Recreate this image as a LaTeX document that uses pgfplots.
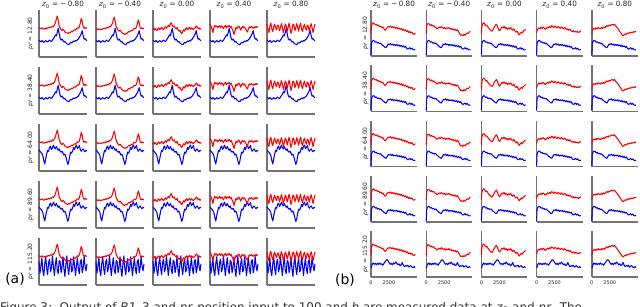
\documentclass[border=0pt]{standalone}
\usepackage{fontspec}
\setmainfont{DejaVu Sans}
\usepackage{pgfplots}
\pgfplotsset{compat=1.18}
\usepackage{pgfplotstable}
\definecolor{spine}{rgb}{0.45,0.45,0.45}
\newcommand\ttl{\fontsize{7.3}{8}\selectfont}
\newcommand\rl{\fontsize{6}{7}\selectfont}

% left grid: x, red per column (r1..r5), blue per row group (b1: rows 1-2, b2: rows 3-4, b3: row 5)
\pgfplotstableread{
x r1 r2 r3 r4 r5 b1 b2 b3
0 .63 .61 .60 .70 .70 .36 .45 .50
2 .61 .60 .57 .66 .58 .34 .42 .25
4 .60 .58 .61 .60 .52 .32 .40 .40
6 .62 .60 .58 .52 .66 .35 .37 .58
8 .60 .59 .56 .62 .72 .33 .33 .30
10 .59 .58 .60 .67 .60 .31 .22 .20
12 .61 .60 .62 .64 .54 .33 .15 .45
14 .60 .59 .58 .66 .64 .35 .26 .60
16 .62 .61 .60 .62 .70 .33 .36 .35
18 .61 .60 .63 .65 .62 .32 .44 .22
20 .63 .62 .60 .67 .58 .34 .42 .48
22 .62 .61 .58 .63 .68 .36 .50 .55
24 .64 .63 .62 .66 .66 .34 .53 .28
26 .63 .62 .64 .64 .56 .33 .46 .36
28 .66 .65 .61 .60 .62 .36 .49 .62
30 .65 .64 .65 .65 .71 .39 .55 .40
32 .68 .67 .67 .67 .64 .42 .50 .20
34 .72 .71 .64 .62 .52 .47 .47 .42
36 .80 .79 .70 .66 .60 .45 .52 .58
38 .87 .85 .73 .64 .70 .52 .48 .32
40 .78 .76 .68 .67 .66 .61 .44 .24
42 .66 .65 .64 .63 .55 .50 .47 .52
44 .62 .61 .66 .65 .63 .40 .42 .50
46 .58 .57 .62 .60 .72 .36 .40 .26
48 .56 .55 .60 .55 .62 .38 .42 .38
50 .59 .57 .63 .48 .50 .35 .38 .60
52 .57 .55 .58 .56 .58 .32 .34 .34
54 .53 .52 .55 .63 .70 .33 .36 .18
56 .52 .50 .57 .60 .68 .30 .30 .44
58 .51 .49 .52 .64 .56 .28 .22 .62
60 .50 .48 .50 .66 .62 .27 .14 .36
62 .52 .50 .54 .62 .71 .26 .20 .22
64 .51 .49 .58 .57 .63 .29 .32 .46
66 .53 .52 .55 .63 .55 .31 .40 .56
68 .55 .54 .60 .65 .66 .30 .38 .28
70 .54 .53 .62 .62 .72 .32 .43 .32
72 .56 .55 .58 .64 .60 .34 .50 .60
74 .58 .57 .61 .60 .54 .33 .46 .42
76 .57 .56 .63 .56 .64 .35 .52 .20
78 .60 .59 .59 .53 .70 .34 .55 .40
80 .62 .61 .62 .60 .61 .37 .48 .58
82 .61 .60 .60 .64 .57 .38 .50 .34
84 .64 .63 .58 .62 .68 .42 .54 .24
86 .72 .70 .61 .65 .65 .45 .46 .50
88 .82 .79 .62 .63 .55 .50 .42 .54
90 .76 .73 .66 .61 .63 .56 .45 .26
92 .64 .62 .64 .64 .71 .45 .47 .36
94 .61 .60 .60 .62 .62 .38 .43 .61
96 .63 .62 .62 .65 .52 .39 .41 .40
98 .61 .60 .59 .63 .62 .36 .44 .30
100 .62 .61 .61 .64 .70 .35 .43 .45
}\LeftData

% right grid: x, red per column, blue (b1: rows 1-4, b2: row 5)
\pgfplotstableread{
x r1 r2 r3 r4 r5 b1 b2
0 .48 .48 .48 .50 .48 .02 .20
60 .64 .65 .64 .55 .55 .26 .22
150 .69 .69 .69 .58 .58 .31 .27
300 .72 .71 .72 .61 .60 .34 .31
450 .70 .69 .70 .59 .58 .33 .28
600 .68 .66 .66 .62 .61 .30 .30
750 .69 .68 .67 .60 .59 .31 .27
900 .66 .65 .63 .63 .62 .28 .30
1050 .67 .66 .60 .61 .60 .29 .28
1200 .64 .63 .57 .58 .59 .27 .31
1350 .65 .62 .55 .60 .62 .28 .28
1500 .62 .59 .54 .63 .60 .25 .29
1650 .63 .61 .58 .61 .63 .23 .26
1800 .59 .63 .63 .64 .61 .21 .30
1950 .56 .61 .67 .62 .64 .19 .33
2100 .58 .64 .69 .66 .66 .18 .37
2250 .62 .62 .64 .64 .64 .22 .38
2400 .64 .60 .57 .62 .67 .26 .35
2550 .63 .62 .55 .65 .66 .25 .31
2700 .65 .59 .59 .63 .68 .27 .28
2850 .62 .61 .63 .61 .69 .24 .30
3000 .64 .60 .61 .64 .67 .26 .27
3150 .61 .62 .64 .62 .69 .23 .31
3300 .63 .59 .60 .60 .66 .25 .29
3450 .60 .60 .62 .63 .63 .23 .33
3600 .62 .57 .58 .61 .60 .25 .30
3750 .59 .59 .61 .59 .57 .22 .27
3900 .61 .56 .59 .62 .53 .24 .29
4050 .58 .58 .62 .60 .50 .21 .25
4200 .60 .55 .58 .57 .46 .23 .27
4350 .56 .57 .56 .59 .44 .20 .32
4500 .58 .53 .59 .56 .46 .22 .26
4650 .55 .49 .55 .58 .48 .19 .23
4800 .57 .45 .52 .55 .47 .21 .25
4950 .53 .46 .54 .53 .50 .17 .24
5100 .55 .44 .50 .55 .49 .15 .26
5250 .51 .47 .46 .52 .51 .16 .22
5400 .53 .45 .49 .54 .50 .18 .24
5550 .50 .48 .52 .52 .52 .15 .25
5700 .52 .50 .50 .53 .51 .17 .22
5850 .48 .49 .54 .51 .53 .14 .21
6000 .47 .52 .56 .53 .52 .13 .23
6150 .50 .54 .58 .55 .54 .14 .21
}\RightData

\pgfplotsset{
  mini/.style={scale only axis, anchor=north west, ymin=0, ymax=1,
    axis x line*=bottom, axis y line*=left,
    axis line style={-, draw=spine, line width=1.4bp},
    xtick=\empty, ytick=\empty, major tick length=0pt, clip=false,
    xticklabel style={font=\fontsize{5}{6}\selectfont, text=black!85}},
  rowopt/.code={\ifnum#1=5\relax\pgfplotsset{xtick={0,2500},xticklabels={0,2500}}\fi},
  rd/.style={draw=red, line width=1.05bp, line join=round, no marks},
  bl/.style={draw=blue, line width=1.05bp, line join=round, no marks},
}

\begin{document}
\begin{tikzpicture}
\begin{scope}
\clip (0bp,0bp) rectangle (640bp,307bp);
% ---- grid (a)
\foreach \r in {1,...,5}{
  \foreach \c in {1,...,5}{
    \pgfmathsetmacro\X{39+(\c-1)*57}
    \pgfmathsetmacro\Y{307-(10+(\r-1)*57)}
    \pgfmathtruncatemacro\bi{\r<3 ? 6 : (\r<5 ? 7 : 8)}
    \begin{axis}[mini, at={(\X bp,\Y bp)}, width=48bp, height=47bp, xmin=0, xmax=100]
      \addplot[bl] table[x index=0, y index=\bi] {\LeftData};
      \addplot[rd] table[x index=0, y index=\c] {\LeftData};
    \end{axis}
  }
}
% ---- grid (b)
\foreach \r in {1,...,5}{
  \foreach \c in {1,...,5}{
    \pgfmathsetmacro\X{371+(\c-1)*55.2}
    \pgfmathsetmacro\Y{307-(10+(\r-1)*55.3)}
    \pgfmathtruncatemacro\bi{\r<5 ? 6 : 7}
    \begin{axis}[mini, at={(\X bp,\Y bp)}, width=46bp, height=46bp, xmin=0, xmax=6400, rowopt=\r]
      \addplot[bl] table[x index=0, y index=\bi] {\RightData};
      \addplot[rd] table[x index=0, y index=\c] {\RightData};
    \end{axis}
  }
}
% ---- column titles
\foreach \c/\zv in {1/{−\,0.80},2/{−\,0.40},3/{0.00},4/{0.40},5/{0.80}}{
  \pgfmathsetmacro\Xa{39+(\c-1)*57+24}
  \pgfmathsetmacro\Xb{371+(\c-1)*55.2+23}
  \node[anchor=base, font=\ttl, text=black!85, inner sep=0] at (\Xa bp,300bp) {\textit{z}\textsubscript{0} = \zv};
  \node[anchor=base, font=\ttl, text=black!85, inner sep=0] at (\Xb bp,300bp) {\textit{z}\textsubscript{0} = \zv};
}
% ---- row labels
\foreach \r/\pv in {1/12.80,2/38.40,3/64.00,4/89.60,5/115.20}{
  \pgfmathsetmacro\Ya{307-(10+(\r-1)*57+23.5)}
  \pgfmathsetmacro\Yb{307-(10+(\r-1)*55.3+23)}
  \node[rotate=90, font=\rl, text=black!85, inner sep=0] at (30.5bp,\Ya bp) {\textit{pr} = \pv};
  \node[rotate=90, font=\rl, text=black!85, inner sep=0] at (365.5bp,\Yb bp) {\textit{pr} = \pv};
}
% ---- panel letters
\node[font=\fontsize{14}{16}\selectfont, inner sep=0] at (15bp,28bp) {(a)};
\node[font=\fontsize{14}{16}\selectfont, inner sep=0] at (345bp,27bp) {(b)};
% ---- clipped caption line
\node[anchor=base west, font=\fontsize{12}{14}\selectfont, text=black!80, inner sep=0] at (0bp,-4.2bp)
  {Figure 3:\ \ Output of \textit{B1}–3 and \textit{pr}-position input to 100 and \textit{b} are measured data at \textit{z}\textsubscript{0} and \textit{pr}. The};
\end{scope}
\pgfresetboundingbox
\useasboundingbox (0bp,0bp) rectangle (640bp,307bp);
\end{tikzpicture}
\end{document}
